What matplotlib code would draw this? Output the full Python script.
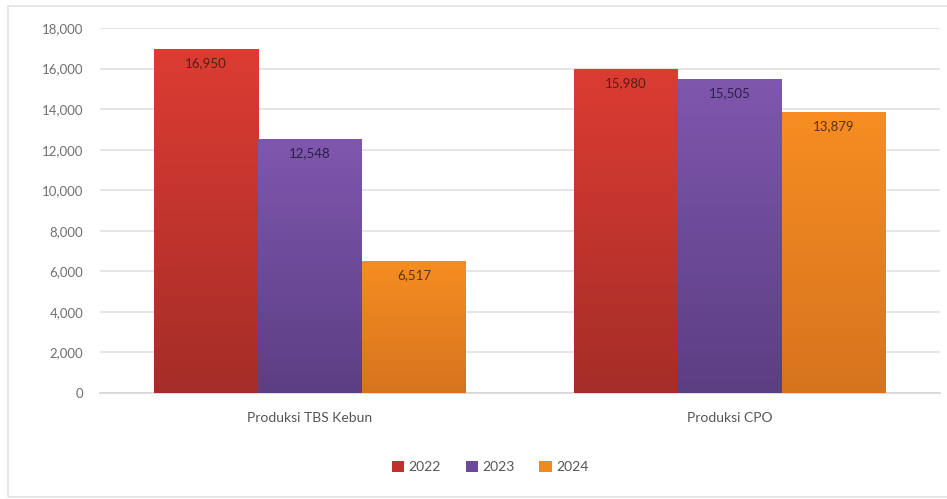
import matplotlib
matplotlib.use("Agg")
import matplotlib.pyplot as plt
import numpy as np
from matplotlib.colors import LinearSegmentedColormap
from matplotlib.patches import Rectangle

categories = ["Produksi TBS Kebun", "Produksi CPO"]
years = ["2022", "2023", "2024"]
values_2022 = [16950, 15980]
values_2023 = [12548, 15505]
values_2024 = [6517, 13879]
series = [values_2022, values_2023, values_2024]
ticks = list(range(0, 18001, 2000))

top_colors = ["#dc3c32", "#7f57ae", "#f78d22"]
bot_colors = ["#a52d28", "#5c3e83", "#d6741e"]
legend_colors = ["#c0302d", "#6a489a", "#f08a1e"]
label_colors = ["#5a1d18", "#2e1f4a", "#5a3510"]

plt.rcParams['font.family'] = ['Lato', 'DejaVu Sans']

fig = plt.figure(figsize=(9.47, 4.99), dpi=100)
fig.patch.set_facecolor("white")

# light frame around chart
frame = Rectangle((8/947, 0.005), 1.2, (495-4)/499, transform=fig.transFigure,
                  fill=False, edgecolor="#e3e3e3", linewidth=1.2)
fig.add_artist(frame)

ax = fig.add_axes([100/947, 106/499, 840/947, (393-28)/499])
ax.set_xlim(-0.5, 1.5)
ax.set_ylim(0, 18000)

x = np.arange(len(categories))
w = 104/420
offsets = [-w, 0, w]

for i, vals in enumerate(series):
    bars = ax.bar(x + offsets[i], vals, width=w, color="none", edgecolor="none",
                  label=years[i], zorder=3)
    cmap = LinearSegmentedColormap.from_list("g%d" % i, [bot_colors[i], top_colors[i]])
    for b in bars:
        x0, y0 = b.get_x(), b.get_y()
        bw, bh = b.get_width(), b.get_height()
        grad = np.linspace(0, 1, 256).reshape(-1, 1)
        im = ax.imshow(grad, cmap=cmap, origin="lower", aspect="auto",
                       extent=[x0, x0 + bw, y0, y0 + bh], zorder=3)
        im.set_clip_path(b)
        ax.annotate(f"{int(b.get_height()):,}", (x0 + bw/2, bh), xytext=(0, -6),
                    textcoords="offset points", ha="center", va="top",
                    fontsize=9.5, color=label_colors[i], zorder=5)
ax.set_xlim(-0.5, 1.5)
ax.set_ylim(0, 18000)

ax.set_yticks(ticks)
ax.set_yticklabels([f"{t:,}" for t in ticks], fontsize=9.5, color="#707070")
ax.set_xticks(x)
ax.set_xticklabels(categories, fontsize=10, color="#555555")
ax.tick_params(axis="both", length=0)
ax.tick_params(axis="y", pad=12)
ax.tick_params(axis="x", pad=14)
ax.grid(axis="y", color="#e2e2e2", linewidth=1.2, zorder=0)
ax.set_axisbelow(True)
for s in ["top", "right", "left"]:
    ax.spines[s].set_visible(False)
ax.spines["bottom"].set_color("#d6d6d6")
ax.spines["bottom"].set_linewidth(1.2)

handles = [Rectangle((0, 0), 1, 1, facecolor=c, edgecolor="none") for c in legend_colors]
fig.legend(handles, years, loc="center", bbox_to_anchor=(490/947, 1 - 467/499),
           ncol=3, frameon=False, fontsize=10, handlelength=0.9, handleheight=0.9,
           handletextpad=0.3, columnspacing=1.8, labelcolor="#555555")

fig.savefig("out.png", dpi=100, facecolor="white")
